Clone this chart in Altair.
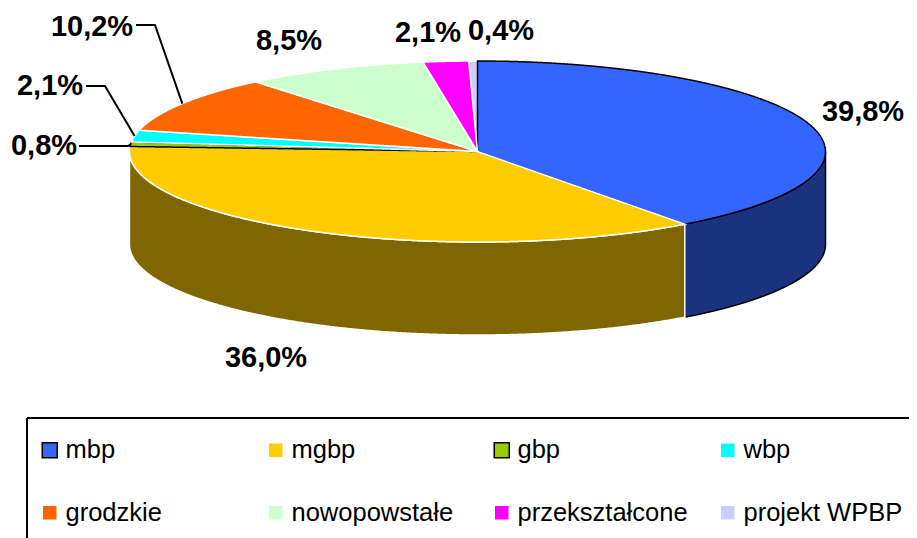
import numpy as np
import pandas as pd
import altair as alt

# ---- values
names = ["mbp", "mgbp", "gbp", "wbp", "grodzkie", "nowopowstałe", "przekształcone", "projekt WPBP"]
shares = [39.8, 36.0, 0.8, 2.1, 10.2, 8.5, 2.1, 0.4]
share_text = ["39,8%", "36,0%", "0,8%", "2,1%", "10,2%", "8,5%", "2,1%", "0,4%"]
fills = ["#3366FF", "#FFCC00", "#99CC00", "#00FFFF", "#FF6600", "#CCFFCC", "#FF00FF", "#CCCCFF"]
edges = ["#000000", "#FFFFFF", "#000000", "#FFFFFF", "#FFFFFF", "#FFFFFF", "#FFFFFF", "#FFFFFF"]
side_fills = {"mbp": "#19337F", "mgbp": "#806600"}

# ---- layout (page pixels)
W, H = 901, 530
CX, CY, RX, RY, DEPTH = 477.5, 151.5, 348.0, 90.5, 93.0
label_pos = [(863, 112), (266, 358), (44, 146), (50, 86), (92, 27), (289, 41), (428, 33), (501, 31)]
elbows = {"gbp": [(79, 146), (128, 146)], "wbp": [(86, 86), (105, 86)], "grodzkie": [(136, 25), (155, 25)]}

ux = lambda px: (px - CX) / RX
uy = lambda py: (CY - py) / RY
x_scale = alt.Scale(domain=[ux(8), ux(8 + W)], nice=False, zero=False)
y_scale = alt.Scale(domain=[uy(8 + H), uy(8)], nice=False, zero=False)
X = alt.X("x:Q", scale=x_scale, axis=None)
Y = alt.Y("y:Q", scale=y_scale, axis=None)

cum = np.concatenate([[0], np.cumsum(shares)]) / sum(shares) * 2 * np.pi


def sector_rows(a0, a1):
    t = np.linspace(a0, a1, max(3, int((a1 - a0) * 400)))
    vx = np.concatenate([[0], np.sin(t), [0]])
    vy = np.concatenate([[0], np.cos(t), [0]])
    xs = np.unique(np.round(np.concatenate([vx, np.linspace(vx.min(), vx.max(), 600)]), 6))
    rows = []
    for x in xs:
        hits = []
        for i in range(len(vx) - 1):
            x0, x1, y0, y1 = vx[i], vx[i + 1], vy[i], vy[i + 1]
            lo, hi = min(x0, x1) - 1e-6, max(x0, x1) + 1e-6
            if lo <= x <= hi:
                if abs(x1 - x0) < 1e-9:
                    hits += [y0, y1]
                else:
                    hits.append(y0 + (y1 - y0) * (x - x0) / (x1 - x0))
        if hits:
            rows.append((x, min(hits), max(hits)))
    return rows


# top faces; the thin last slice goes first so the black edge of mbp stays on top of it
top_rows = []
for i in [7, 0, 1, 2, 3, 4, 5, 6]:
    for x, lo, hi in sector_rows(cum[i], cum[i + 1]):
        top_rows.append({"name": names[i], "x": x, "y": lo, "y2": hi})
top = pd.DataFrame(top_rows)

# outer wall, lower half of the ellipse only
side_rows = []
for i, (a0, a1) in [(0, (np.pi / 2, cum[1])), (1, (cum[1], 1.5 * np.pi))]:
    t = np.linspace(a0, a1, 500)
    for a in t:
        y = np.cos(a)
        side_rows.append({"name": names[i], "shade": side_fills[names[i]], "edge": edges[i],
                          "x": np.sin(a), "y": y, "y2": y - DEPTH / RY})
side = pd.DataFrame(side_rows)

side_layer = alt.Chart(side).mark_area(strokeWidth=1.5, opacity=1).encode(
    x=X, y=Y, y2="y2:Q",
    fill=alt.Fill("shade:N", scale=None),
    stroke=alt.Stroke("edge:N", scale=None),
    detail="name:N",
)

legend = alt.Legend(
    title=None, orient="none", legendX=29, legendY=429, columns=4, direction="horizontal",
    gridAlign="all", columnPadding=27, rowPadding=36, padding=0,
    labelFont="Liberation Sans", labelFontSize=25.5, labelColor="#000000", labelLimit=400, labelOffset=3,
    symbolType="square", symbolSize=225, symbolStrokeWidth=1.5, symbolOpacity=1,
)
top_layer = alt.Chart(top).mark_area(strokeWidth=1.5, opacity=1).encode(
    x=X, y=Y, y2="y2:Q",
    fill=alt.Fill("name:N", scale=alt.Scale(domain=names, range=fills), legend=legend),
    stroke=alt.Stroke("name:N", scale=alt.Scale(domain=names, range=edges), legend=legend),
)

# leader lines: from the label elbow to the rim at the slice's middle angle
lead_rows = []
for nm, pts in elbows.items():
    i = names.index(nm)
    mid = (cum[i] + cum[i + 1]) / 2
    seq = [(ux(a), uy(b)) for a, b in pts] + [(np.sin(mid), np.cos(mid))]
    for k, (a, b) in enumerate(seq):
        lead_rows.append({"name": nm, "k": k, "x": a, "y": b})
leaders = alt.Chart(pd.DataFrame(lead_rows)).mark_line(color="#000000", strokeWidth=2).encode(
    x=X, y=Y, detail="name:N", order="k:Q"
)

labels = alt.Chart(pd.DataFrame({
    "t": share_text,
    "x": [ux(p[0]) for p in label_pos],
    "y": [uy(p[1]) for p in label_pos],
})).mark_text(font="Liberation Sans", fontWeight="bold", fontSize=29, color="#000000",
              align="center", baseline="middle").encode(x=X, y=Y, text="t:N")

frame_top = alt.Chart(pd.DataFrame({"x": [ux(27)], "x2": [ux(917)], "y": [uy(418)]})).mark_rule(
    color="#000000", strokeWidth=2).encode(x=X, x2="x2:Q", y=Y)
frame_left = alt.Chart(pd.DataFrame({"x": [ux(27)], "y": [uy(418)], "y2": [uy(538)]})).mark_rule(
    color="#000000", strokeWidth=2).encode(x=X, y=Y, y2="y2:Q")

chart = alt.layer(side_layer, top_layer, leaders, labels, frame_top, frame_left).resolve_scale(
    fill="independent", stroke="independent"
).properties(
    width=W, height=H, padding=0, autosize=alt.AutoSizeParams(type="none"), background="#FFFFFF"
).configure_view(stroke=None)

chart.save("out.html", embed_options={"renderer": "svg", "actions": False})
